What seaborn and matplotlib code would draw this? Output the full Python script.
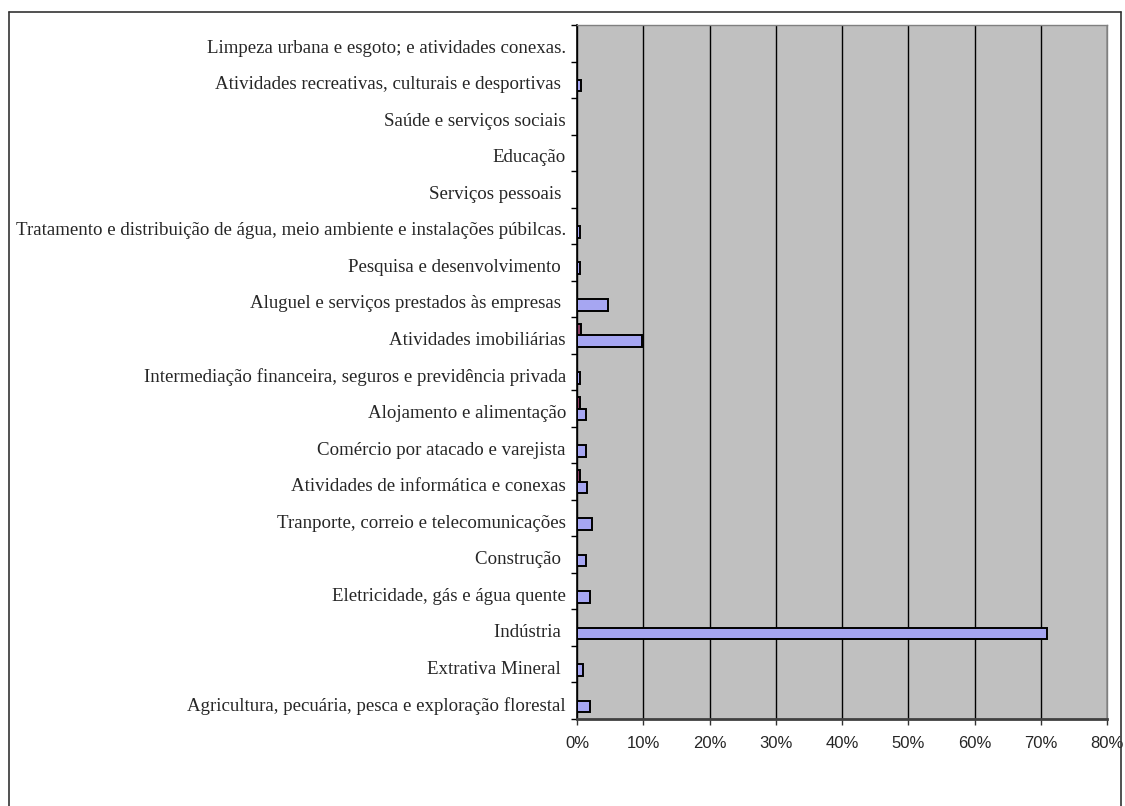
import numpy as np
import pandas as pd
import seaborn as sns
import matplotlib.pyplot as plt
from matplotlib.lines import Line2D
from matplotlib.ticker import FixedLocator
from matplotlib.transforms import ScaledTranslation

# categories, top to bottom as they appear on the chart
categories = [
    'Limpeza urbana e esgoto; e atividades conexas.',
    'Atividades recreativas, culturais e desportivas ',
    'Saúde e serviços sociais',
    'Educação',
    'Serviços pessoais ',
    'Tratamento e distribuição de água, meio ambiente e instalações púbilcas.',
    'Pesquisa e desenvolvimento ',
    'Aluguel e serviços prestados às empresas ',
    'Atividades imobiliárias',
    'Intermediação financeira, seguros e previdência privada',
    'Alojamento e alimentação',
    'Comércio por atacado e varejista',
    'Atividades de informática e conexas',
    'Tranporte, correio e telecomunicações',
    'Construção ',
    'Eletricidade, gás e água quente',
    'Indústria ',
    'Extrativa Mineral ',
    'Agricultura, pecuária, pesca e exploração florestal',
]

# share (%) per sector, two series
serie_red = [0, 0, 0, 0, 0, 0, 0, 0, 0.65, 0, 0.45, 0, 0.5, 0, 0, 0, 0, 0, 0]
serie_blue = [0, 0.65, 0, 0, 0, 0.4, 0.4, 4.7, 9.75, 0.45, 1.3, 1.3, 1.5, 2.2, 1.3, 1.9, 71.0, 0.85, 1.9]

x_ticks = [0, 10, 20, 30, 40, 50, 60, 70, 80]
x_labels = ['0%', '10%', '20%', '30%', '40%', '50%', '60%', '70%', '80%']

df = pd.DataFrame({
    'setor': categories * 2,
    'serie': ['red'] * len(categories) + ['blue'] * len(categories),
    'valor': serie_red + serie_blue,
})

sns.set_style('white')
plt.rcParams['font.family'] = ['Liberation Serif', 'DejaVu Serif']

fig = plt.figure(figsize=(11.25, 8.06), dpi=100)
ax = fig.add_axes([577 / 1125, 1 - 719 / 806, (1107 - 577) / 1125, (719 - 25) / 806])

sns.barplot(
    data=df, x='valor', y='setor', hue='serie', order=categories,
    hue_order=['red', 'blue'], palette=['#993366', '#9999FF'],
    orient='h', width=0.64, edgecolor='black', linewidth=1.4,
    legend=False, ax=ax,
)

ax.set_facecolor('#C0C0C0')
ax.set_xlim(0, 80)
ax.set_ylim(len(categories) - 0.5, -0.5)
ax.set_xlabel('')
ax.set_ylabel('')

ax.set_xticks(x_ticks)
ax.set_xticklabels(x_labels, family=['Liberation Sans', 'DejaVu Sans'], fontsize=12)
ax.tick_params(axis='x', direction='out', length=4, width=1, color='#333333', pad=8,
               bottom=True)
ax.xaxis.grid(True, color='black', linewidth=1)
ax.set_axisbelow(True)

ax.set_yticks(range(len(categories)))
ax.set_yticklabels(categories, fontsize=13.6)
ax.tick_params(axis='y', which='major', length=0, pad=8)
shift = ScaledTranslation(0, -3 / 100, fig.dpi_scale_trans)
for lbl in ax.get_yticklabels():
    lbl.set_transform(lbl.get_transform() + shift)
ax.yaxis.set_minor_locator(FixedLocator(np.arange(-0.5, len(categories), 1)))
ax.tick_params(axis='y', which='minor', direction='out', length=4, width=1,
               color='black', left=True)

for side in ['top', 'right']:
    ax.spines[side].set_color('#808080')
    ax.spines[side].set_linewidth(1)
ax.spines['left'].set_color('black')
ax.spines['left'].set_linewidth(1.2)
ax.spines['bottom'].set_color('#404040')
ax.spines['bottom'].set_linewidth(2)

# outer chart border (bottom edge falls outside the image)
x0, x1, y_top = 9 / 1125, 1121 / 1125, 1 - 12 / 806
for xs, ys in [([x0, x0], [0, y_top]), ([x0, x1], [y_top, y_top]), ([x1, x1], [y_top, 0])]:
    fig.add_artist(Line2D(xs, ys, transform=fig.transFigure, color='#333333', linewidth=1.2))

fig.savefig('out.png', dpi=100, facecolor='white')
